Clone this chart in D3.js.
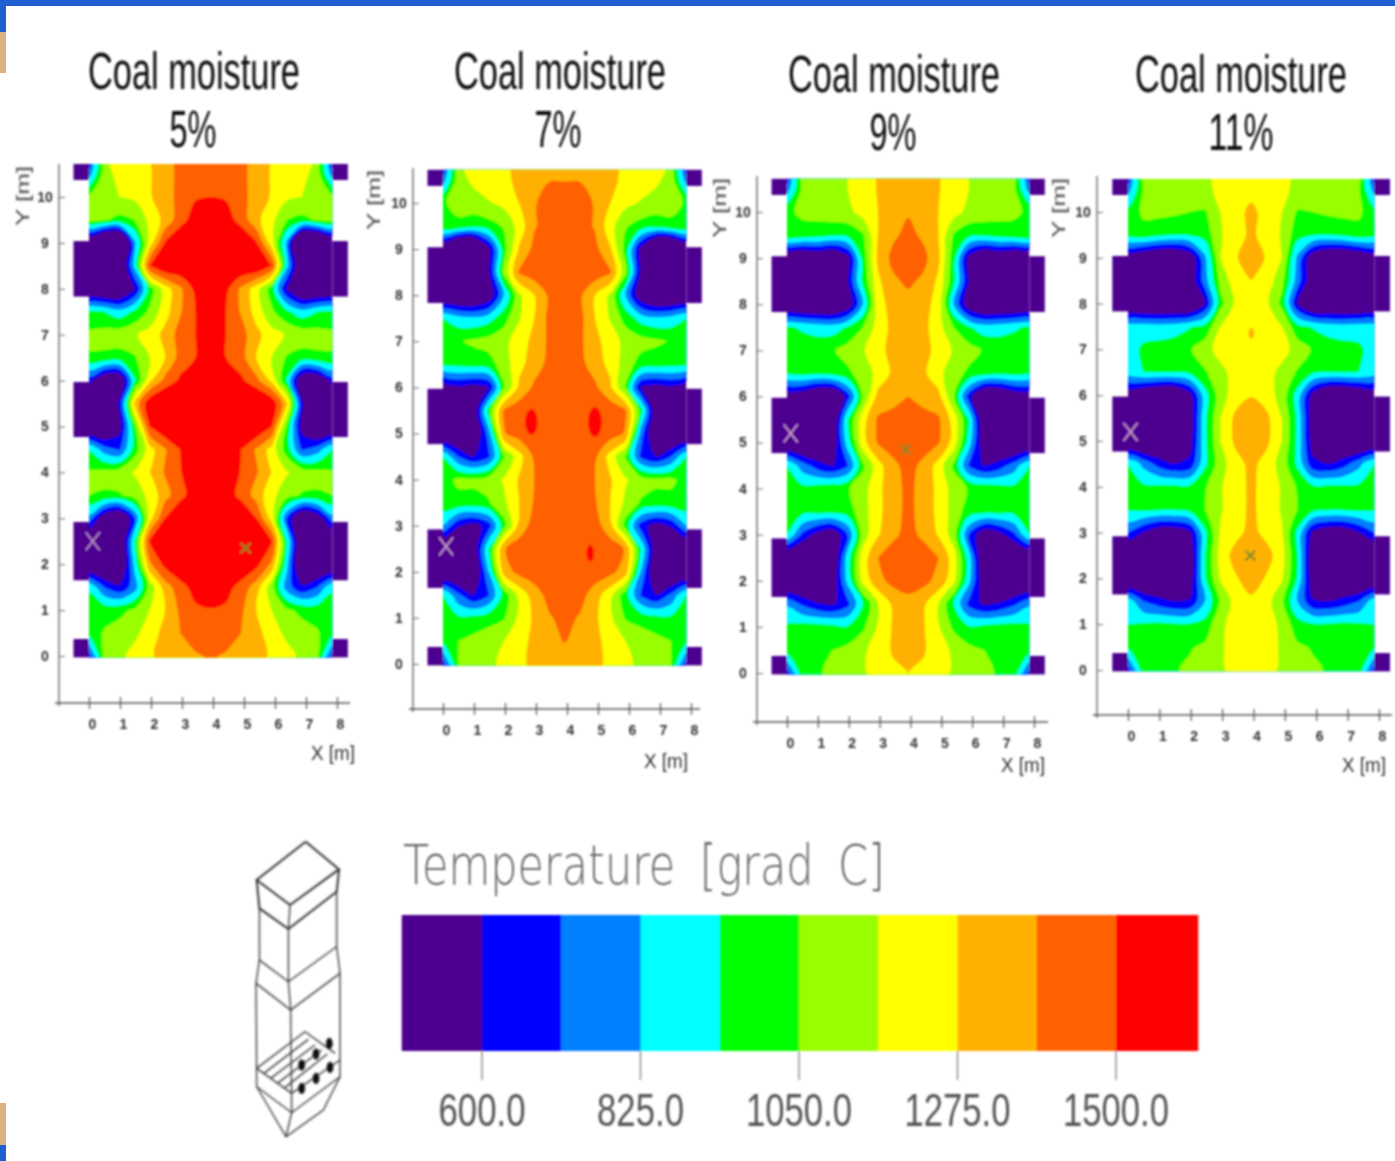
<!DOCTYPE html>
<html><head><meta charset="utf-8">
<script src="https://cdn.jsdelivr.net/npm/d3@7"></script>
<style>html,body{margin:0;padding:0;background:#fff;overflow:hidden}svg{display:block}text{font-family:"Liberation Sans",Arial,sans-serif}</style>
</head><body><svg id="c" width="1395" height="1161"></svg>
<script>
const titles = ["5%", "7%", "9%", "11%"];
const titleWidths = [47, 47, 47, 65];
const legendTicks = [600, 825, 1050, 1275, 1500];
const bandColors = ["#4d0090","#0000ff","#0080ff","#00ffff","#00ff00","#99ff00","#ffff00","#ffb000","#ff6000","#ff0000"];
const xTicks = [0,1,2,3,4,5,6,7,8];
const yTicks = [0,1,2,3,4,5,6,7,8,9,10];
// Temperature, in colour bands above 600 C (one band = 112.5 C).
// Rows run from Y=11 down to Y=0 in 0.5 m steps; columns from the wall (X=0) to the furnace axis (X=3.93).
const bands5 = [
[-1,5,5.5,5.7,6,6.7,7.2,7.6,7.7],
[1.5,4.5,5.4,5.6,5.9,6.7,7.2,7.6,7.7],
[4.2,4.5,5,5.2,5.9,6.6,7.3,7.9,8],
[4.3,4.1,3.7,4,5.3,6.3,7.6,8.5,8.9],
[-2,-4,-4,1.8,5.5,8.1,9,9,9],
[-2,-2,-2,2.3,8,9,9,9,9],
[-2,-2,-2,-.1,3.5,5.5,6.8,8.3,9],
[3.2,3,2.4,3.2,4.2,5.6,6.9,8,9],
[4.2,4.4,4.6,4.9,5.4,6.3,7.4,8,9],
[3.9,3.8,3.6,3.9,5,6,7.4,8,9],
[.4,-1.5,-1.5,2.9,5.8,7.3,8.2,9,9],
[-2,-2,.2,6.2,8.8,9.5,9.5,9.5,9.5],
[-2,-2,-.5,3.8,8,9,9.5,9.5,9.5],
[3,1.5,.9,3.5,5.6,6.9,8,9,9],
[4.1,4.3,4.6,5.1,6,7.1,7.9,9,9],
[4,3.9,3.9,4.4,5.3,6.6,7.7,8.5,9],
[1.6,-1,-2,1,5.6,8,9,9,9],
[-2,-2,-2,3,8.1,9.5,9.5,9.5,9.5],
[-2,-2,-2,2.3,6.8,8.3,9,9,9],
[2.9,1,.2,1.5,4.4,6.5,7.6,8.4,9],
[3.3,3.6,3.7,4.2,5,6,7.2,7.8,7.9],
[3.4,4.1,4.5,4.8,5.4,6.4,7,7.4,7.6],
[.5,4.3,4.8,5.3,5.8,6.5,6.7,6.9,7.1]];
const bands7 = [
[-1,5,5.2,5.6,5.9,6.1,6.9,7,7],
[1.5,4.6,5.2,5.6,5.9,6.1,6.9,6.95,6.95],
[3.9,4.3,4.6,4.9,5.3,6,6.9,7.5,7.6],
[4,3.8,3.4,3.6,4.1,5.4,6.9,7.5,7.6],
[-2,-4,-4,-.4,3.6,6.1,7.3,7.6,7.6],
[-2,-2,-2,-.3,4.3,7.1,7.6,7.6,7.6],
[-2,-2,-2,-1,2,4.8,6,7.2,7.7],
[3,2.4,2.2,2.6,3.6,4.9,6,7.3,7.7],
[3.5,3.9,4.2,4.4,4.7,5.5,6.3,7.2,7.7],
[3.2,3.3,3.4,3.6,4.5,5.7,6.5,7.3,7.7],
[-1,-.2,-.5,-.1,3.9,6.2,7.2,7.7,7.7],
[-2,-2,-1.2,3.5,7.1,7.6,7.8,7.8,7.8],
[-2,-2,-1.5,1.5,6.9,7.5,7.7,7.7,7.7],
[3,1,0,.8,3.9,5.6,7.2,7.6,7.7],
[3.6,4.2,4.2,4.5,5.1,6.1,7,7.6,7.7],
[3.6,3.7,3.7,3.9,4.8,6,7.1,7.6,7.7],
[2,.1,-.5,.5,3.6,6.3,7.5,7.7,7.7],
[-2,-2,-1,3,6.9,7.6,7.7,7.7,7.7],
[-2,-2,-1.5,2,6.5,7.3,7.6,7.7,7.7],
[3,1.2,0,.9,3.4,5.3,6.5,7.4,7.6],
[3.1,3.2,3.3,3.6,3.9,5.2,6.2,6.9,7.3],
[3.3,4,4.3,4.6,5,5.7,6.2,6.7,7.05],
[.5,4,4.5,4.8,5.2,5.8,6.2,6.4,6.5]];
const bands9 = [
[-1,5,4.5,4.7,5,5.6,6.05,6.5,6.5],
[1.5,4.2,4.5,4.7,5,5.6,6.05,6.5,6.5],
[3.8,4.2,4.4,4.6,4.7,5.4,6,6.5,6.9],
[3.8,3.6,3.4,3.2,3.3,3.9,6,6.8,7.3],
[-2,-2,-1.5,-2,-.5,3.4,6.2,7.3,7.6],
[-2,-2,-2,-2,0,3.2,5.8,6.8,7.2],
[-2,-2,-2,-2,-1,2,5.6,6.4,6.6],
[3.1,2.9,2.6,2.5,3.1,4,5.4,6.3,6.6],
[3.2,3.4,3.6,3.9,4.4,4.9,5.6,6.4,6.6],
[3.1,3.3,3.2,3.4,3.8,4.4,5.3,6.2,6.5],
[-1,-1,-2,-2,.5,4.1,6.3,6.6,7],
[-2,-2,-2,-1.5,3,5.6,7.15,7.4,7.4],
[-2,-2,-2,-1,2.5,5.6,7.1,7.4,7.4],
[3,1.5,.5,-.1,.9,3.8,5.6,6.8,7.3],
[3.2,3.3,3.5,3.7,3.9,4.6,5.7,6.7,7.2],
[3.3,3.3,3.3,3.3,3.5,4.6,5.7,6.7,7.2],
[3,.8,-.5,-1,1,4.5,5.9,6.8,7.3],
[-2,-2,-2,-1.5,2.5,5.5,7,7.5,7.5],
[-2,-2,-2,-1,2.3,5.3,6.7,7.3,7.4],
[1.8,.8,.1,-.2,.7,3,5,6.2,6.7],
[3.2,3.4,3.4,3.3,3.1,3.8,5.1,6.1,6.5],
[3.4,3.5,3.7,4,4.3,4.8,5.5,6.1,6.3],
[.5,3.6,3.9,4.2,4.5,4.9,5.3,5.8,6]];
const bands11 = [
[-1,5,4.3,4.5,4.7,4.9,5.1,5.6,5.7],
[1.5,4.1,4.3,4.5,4.7,4.9,5.1,5.6,5.7],
[3.3,4.2,4.3,4.2,4,3.9,5,5.7,6.2],
[3.3,3.6,3.2,3,3.1,3.4,4.9,5.6,6.2],
[-1,-1.5,-2,-2,-1,1.8,5,5.9,6.6],
[-2,-2,-2,-2,-1,1.5,4.3,5.6,6],
[-2,-2,-2,-2,-2,0,3.7,5.2,5.6],
[2.5,2.5,2.4,2.5,2.9,3.3,5,5.6,5.9],
[2.5,3.2,3.4,3.6,3.9,4.6,5.4,5.7,5.7],
[2.5,3,3,3,3.2,3.9,4.7,5.4,5.6],
[-1,-1.5,-2,-2,-.5,2.6,4.6,5.5,5.95],
[-2,-2,-2,-2,-.8,2.8,5,6.25,6.6],
[-2,-2,-2,-2,-.6,2.8,5,6.25,6.6],
[3,1.7,.6,0,.3,2.8,4.6,5.6,6.3],
[3.1,3.2,3.2,3.2,3.2,3.9,4.9,5.6,6.2],
[3.1,3.2,3.1,3.1,3.3,4,4.9,5.6,6.2],
[1,-.1,-1,-1,-.3,2.8,5.1,5.7,6.3],
[-2,-2,-2,-2,-1,3,5.4,6.4,6.6],
[-2,-2,-2,-2,-.8,2.9,5.1,5.9,6.5],
[2.6,1,.4,0,.1,2,4.2,5.4,5.8],
[3,3.1,3.2,3.1,3.1,3.4,4.8,5.4,5.6],
[3.2,3.4,3.5,3.7,3.9,4.2,4.9,5.3,5.4],
[.5,3.6,3.7,3.9,4.2,4.6,4.9,5.2,5.3]];
const panelBands = [bands5, bands7, bands9, bands11];
// Burner openings standing out of the contour field, Y ranges in m
const burnerRows = [[1.65,2.92],[4.77,5.97],[7.83,9.04],[-0.03,0.37],[10.37,10.72]];
// Small marks: [X, Y] in m
const crosses = [[0.12,2.5],[0.1,2.55],[0.12,5.2],[0.08,5.2]];
const darkSpots = [[[5.05,2.35]],[],[[3.85,4.85]],[[3.9,2.5]]];
const hotSpots = [[],[[2.85,5.25,.2,.28],[4.9,5.25,.22,.32],[4.75,2.4,.12,.18]],[],[]];
const warmSpots = [[],[],[],[[3.93,7.35,.09,.12]]];
// Panel placement on the page
const frames = [
 {x0:89,x8:337,y0:656,y10:197,vx:59,hy:703,l:55,r:350,t:164,tx:194,ty:89,px:193,py:147,xl:333,xly:760,yl:24},
 {x0:443,x8:691,y0:664,y10:203,vx:413,hy:709,l:409,r:700,t:168,tx:560,ty:89,px:558,py:147,xl:666,xly:768,yl:375},
 {x0:787,x8:1034,y0:673,y10:212,vx:757,hy:722,l:753,r:1048,t:176,tx:894,ty:92,px:893,py:150,xl:1023,xly:772,yl:721},
 {x0:1128,x8:1379,y0:670,y10:212,vx:1097,hy:715,l:1093,r:1392,t:176,tx:1241,ty:92,px:1241,py:150,xl:1364,xly:772,yl:1060}
];
const svg = d3.select("#c");
const defs = svg.append("defs");
defs.append("filter").attr("id","soft").attr("filterUnits","userSpaceOnUse").attr("x",0).attr("y",0).attr("width",1395).attr("height",1161)
  .append("feGaussianBlur").attr("stdDeviation",1.2);
svg.append("rect").attr("width",1395).attr("height",1161).attr("fill","#fff");
const root = svg.append("g").attr("filter","url(#soft)");

const toTemp = d3.scaleLinear([0,8],[600,1500]);
const thresholds = d3.range(0,9).map(toTemp);
const plotW = 7.85, nCols = 17, nRows = 23;
const dx = plotW/(nCols-1);
const ringLine = d3.line().curve(d3.curveCatmullRomClosed.alpha(0.5));

// writes a text and squeezes it horizontally to the width it has in the picture
function fitted(g,s,x,y,width,size,fill,anchor,styled){
  const t = g.append("text").text(s).attr("font-size",size).attr("fill",fill).attr("text-anchor",anchor||"middle");
  if(styled) styled(t);
  const natural = t.node().getComputedTextLength();
  t.attr("transform",`translate(${x},${y}) scale(${width/natural},1)`);
  return t;
}
frames.forEach((f,pi)=>{
  const g = root.append("g");
  const x = d3.scaleLinear([0,8],[f.x0,f.x8]);
  const y = d3.scaleLinear([0,10],[f.y0,f.y10]);
  fitted(g,"Coal moisture",f.tx,f.ty,212,52,"#111");
  fitted(g,titles[pi],f.px,f.py,titleWidths[pi],52,"#111");
  const grid = [];
  panelBands[pi].forEach(r=>{ const full=r.concat(r.slice(0,8).reverse()); full.forEach(v=>grid.push(toTemp(v))); });
  const contours = d3.contours().size([nCols,nRows]).smooth(true).thresholds(thresholds)(grid);
  const toPx = p=>[x((p[0]-.5)*dx), y(11-(p[1]-.5)*.5)];
  const contourPath = c=>c.coordinates.flat().map(ring=>ringLine(ring.slice(0,-1).map(toPx))).join("");
  const cid = "clip"+pi;
  defs.append("clipPath").attr("id",cid).append("rect")
    .attr("x",x(0)).attr("y",y(10.72)).attr("width",x(plotW)-x(0)).attr("height",y(-0.03)-y(10.72));
  const field = g.append("g").attr("clip-path",`url(#${cid})`);
  field.append("rect").attr("x",x(0)).attr("y",y(10.72)).attr("width",x(plotW)-x(0)).attr("height",y(-0.03)-y(10.72)).attr("fill",bandColors[0]);
  field.selectAll("path").data(contours).join("path").attr("d",contourPath).attr("fill-rule","evenodd").attr("fill",(d,i)=>bandColors[i+1]);
  hotSpots[pi].forEach(s=>field.append("ellipse").attr("cx",x(s[0])).attr("cy",y(s[1])).attr("rx",x(s[2])-x(0)).attr("ry",y(0)-y(s[3])).attr("fill",bandColors[9]));
  warmSpots[pi].forEach(s=>field.append("ellipse").attr("cx",x(s[0])).attr("cy",y(s[1])).attr("rx",x(s[2])-x(0)).attr("ry",y(0)-y(s[3])).attr("fill",bandColors[7]));
  darkSpots[pi].forEach(s=>{
    const a=x(s[0]),b=y(s[1]);
    field.append("path").attr("d",`M${a-5},${b-5}L${a+5},${b+5}M${a+5},${b-5}L${a-5},${b+5}`).attr("stroke","#6f8a2a").attr("stroke-width",2);
  });
  burnerRows.forEach(b=>{
    [[-0.5,0],[plotW,8.35]].forEach(e=>{
      g.append("rect").attr("x",x(e[0])).attr("width",x(e[1])-x(e[0])).attr("y",y(b[1])).attr("height",y(b[0])-y(b[1])).attr("fill",bandColors[0]);
    });
  });
  const cr = crosses[pi], ca=x(cr[0]), cb=y(cr[1]);
  g.append("path").attr("d",`M${ca-7},${cb-9}L${ca+7},${cb+9}M${ca+7},${cb-9}L${ca-7},${cb+9}`).attr("stroke","#e8b8d8").attr("stroke-width",1.2).attr("fill","none");
  // axes
  g.append("line").attr("x1",f.vx).attr("x2",f.vx).attr("y1",f.t).attr("y2",f.hy+3).attr("stroke","#666").attr("stroke-width",1.4);
  g.append("line").attr("x1",f.l).attr("x2",f.r).attr("y1",f.hy).attr("y2",f.hy).attr("stroke","#555").attr("stroke-width",1.6);
  const ax = g.append("g").attr("transform",`translate(0,${f.hy})`).call(d3.axisBottom(x).tickValues(xTicks).tickFormat(d3.format("d")).tickSize(6).tickSizeOuter(0).tickPadding(10));
  ax.select(".domain").remove();
  ax.selectAll("line").attr("y1",-6).attr("stroke","#555").attr("stroke-width",1.2);
  ax.selectAll("text").attr("font-size",14).attr("font-weight","bold").attr("fill","#333").attr("dx",3);
  const ay = g.append("g").attr("transform",`translate(${f.vx},0)`).call(d3.axisRight(y).tickValues(yTicks).tickFormat(d3.format("d")).tickSize(6).tickSizeOuter(0));
  ay.select(".domain").remove();
  ay.selectAll("line").attr("stroke","#777").attr("stroke-width",1.1);
  ay.selectAll("text").attr("x",-14).attr("text-anchor","middle").attr("font-size",14).attr("font-weight","bold").attr("fill","#333");
  fitted(g,"X [m]",f.xl,f.xly,44,21,"#333");
  const yLabel = g.append("g").attr("transform",`translate(${f.yl+5},${f.t+32}) rotate(-90)`);
  fitted(yLabel,"Y [m]",0,0,60,18,"#444");
});
// legend
const lg = root.append("g");
const lx = d3.scaleLinear([600,1500],[482,1116]);
const step = (lx(1500)-lx(600))/8;
bandColors.forEach((c,i)=>{
  const v0 = 600 + (i-1)*112.5;
  const a = i===0 ? lx(v0)-1 : lx(v0), w = i===9 ? step+3 : (i===0 ? step+1.5 : step+0.5);
  lg.append("rect").attr("x",a).attr("y",915).attr("width",w).attr("height",136).attr("fill",c);
});
lg.selectAll("line.t").data(legendTicks).join("line").attr("x1",d=>lx(d)).attr("x2",d=>lx(d)).attr("y1",1051).attr("y2",1080).attr("stroke","#888").attr("stroke-width",1.4);
legendTicks.forEach(d=>{
  const s = d3.format(".1f")(d);
  fitted(lg,s,lx(d),1126,s.length===5?87:106,46,"#555");
});
fitted(lg,"Temperature [grad C]",403,884,482,56,"#666","start",t=>t.style("font-family",'"DejaVu Sans"').style("font-weight",200).style("word-spacing","0.25em"));
// furnace sketch
const sketch = root.append("g").attr("transform","translate(240,830) scale(0.3333)").attr("fill","none").attr("stroke","#333");
const furnaceLines = [
 [[197,35],[297,118],[150,225],[50,150],[197,35]],
 [[50,150],[58,235],[145,297],[290,185],[297,118]],[[150,225],[145,297]],
 [[58,235],[58,390],[145,455],[290,350],[290,185]],[[145,297],[145,455]],
 [[58,390],[48,460],[152,540],[300,430],[290,350]],[[145,455],[152,540]],
 [[48,460],[50,770],[155,848],[300,740],[300,430]],[[152,540],[155,848]],
 [[50,770],[138,920],[250,840],[300,740]],[[155,848],[138,920]],
 [[50,715],[195,605],[285,670]],[[50,715],[155,790],[300,690]],
 [[72,730],[205,628]],[[92,745],[225,645]],[[112,760],[245,660]],[[132,775],[262,672]]
];
const furnaceHoles = [[185,705],[228,672],[268,640],[185,775],[228,745],[270,712]];
sketch.selectAll("path").data(furnaceLines).join("path").attr("d",d3.line()).attr("stroke-width",(d,i)=>i<2?6:4);
sketch.selectAll("ellipse").data(furnaceHoles).join("ellipse").attr("cx",d=>d[0]).attr("cy",d=>d[1]).attr("rx",10).attr("ry",17).attr("fill","#111").attr("stroke","none");
// page chrome of the source slide
const chrome = svg.append("g");
[[0,0,1395,6,"#1f5fcf"],[0,6,6,26,"#1f5fcf"],[0,32,6,41,"#dcb285"],[0,1103,6,42,"#dcb285"],[0,1145,6,16,"#1f5fcf"]].forEach(r=>
  chrome.append("rect").attr("x",r[0]).attr("y",r[1]).attr("width",r[2]).attr("height",r[3]).attr("fill",r[4]));
</script></body></html>
